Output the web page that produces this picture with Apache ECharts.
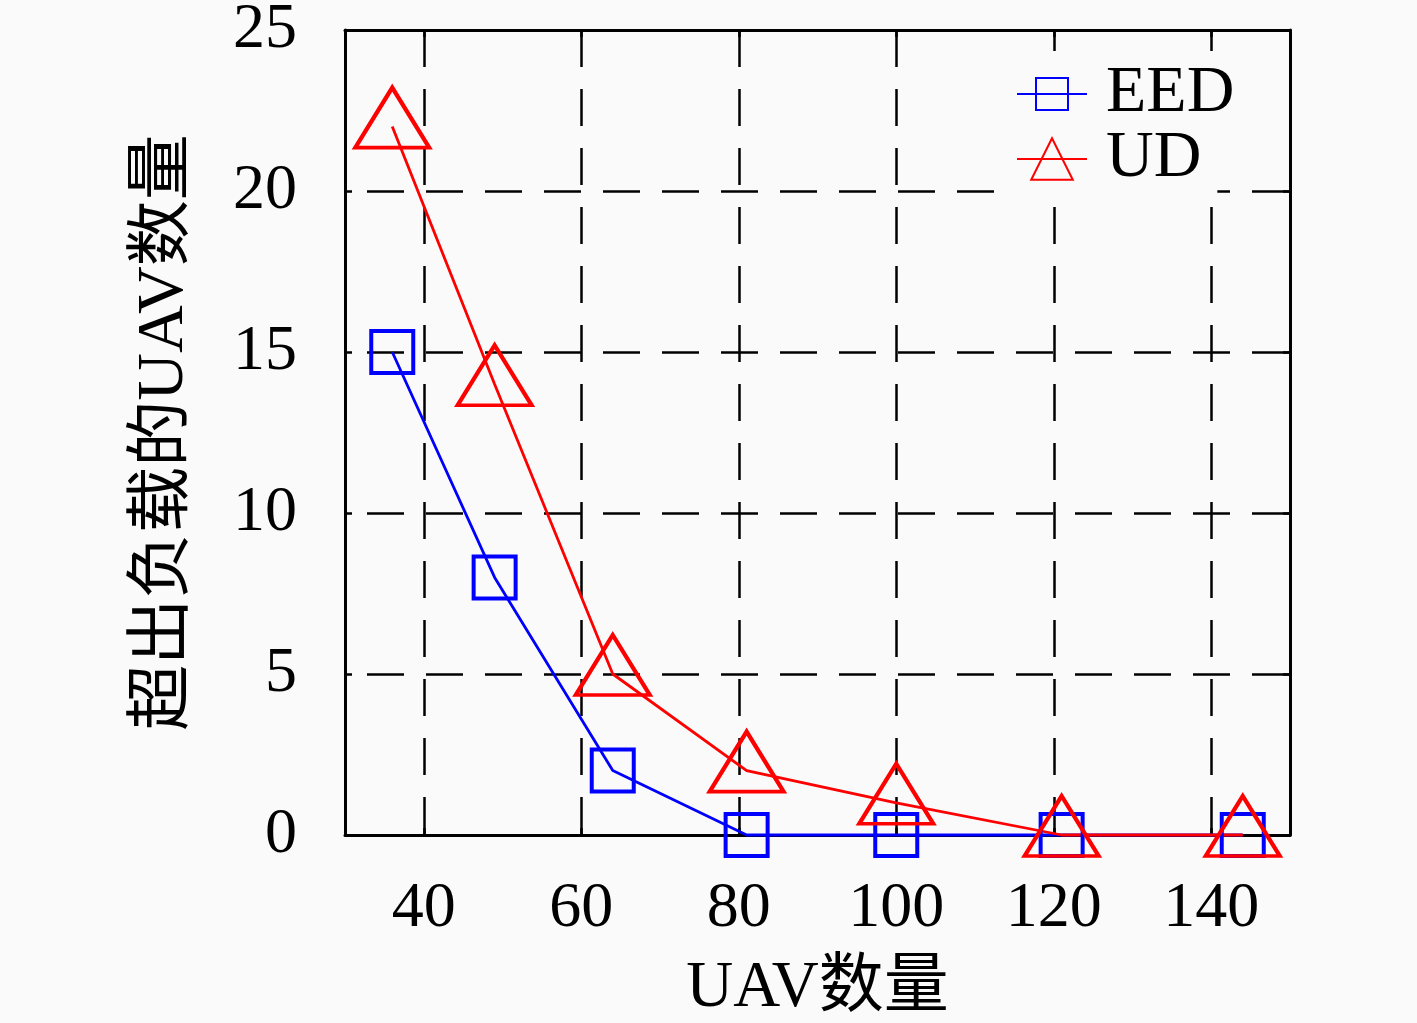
<!DOCTYPE html>
<html><head><meta charset="utf-8">
<script src="https://cdn.jsdelivr.net/npm/echarts@6/dist/echarts.min.js"></script>
<style>html,body{margin:0;padding:0;background:#fafafa}#c{width:1417px;height:1023px}</style>
</head><body><div id="c"></div>
<script>
const uavCounts = [36, 49, 64, 81, 100, 121, 144];
const eedValues = [15, 8, 2, 0, 0, 0, 0];
const udValues = [22, 14, 5, 2, 1, 0, 0];
const xTickValues = [40, 60, 80, 100, 120, 140];
const seriesNames = ['EED', 'UD'];
const xAxisName = 'UAV数量';
const yAxisName = '超出负载的UAV数量';

const BG = '#fafafa';
const FONT = "'Liberation Serif', 'Noto Sans CJK SC', serif";
const chart = echarts.init(document.getElementById('c'), null, {renderer: 'canvas'});

const frameLine = {show: true, onZero: false, lineStyle: {color: '#000', width: 3}};
const tickStyle = {color: '#000', width: 2.5};
const gridDash = {color: '#000', width: 2.5, type: [37, 22]};
const legendText = {fontFamily: FONT, fontSize: 66, color: '#000', padding: [0, 0, 0, 14]};

function pairs(xs, ys) { return xs.map((x, i) => [x, ys[i]]); }

chart.setOption({
  backgroundColor: BG,
  animation: false,
  grid: {left: 345, right: 127, top: 30, bottom: 188, containLabel: false, outerBoundsMode: 'none'},
  legend: [{
    orient: 'vertical',
    left: 1000, top: 51,
    padding: [10, 16, 10, 16],
    itemGap: 0,
    itemWidth: 70, itemHeight: 40,
    backgroundColor: BG,
    data: [seriesNames[0]],
    textStyle: legendText
  }, {
    orient: 'vertical',
    left: 1000, top: 126,
    padding: [0, 16, 6, 16],
    itemGap: 0,
    itemWidth: 70, itemHeight: 52,
    backgroundColor: BG,
    data: [seriesNames[1]],
    textStyle: legendText
  }],
  xAxis: [{
    type: 'value', min: 30, max: 150, position: 'bottom',
    name: xAxisName, nameLocation: 'middle', nameGap: 121,
    nameTextStyle: {fontFamily: FONT, fontSize: 65, color: '#000'},
    axisLine: frameLine,
    axisTick: {show: true, inside: true, length: 7, lineStyle: tickStyle, customValues: xTickValues},
    axisLabel: {show: true, customValues: xTickValues, margin: 42, fontFamily: FONT, fontSize: 64, color: '#000'},
    splitLine: {show: true, lineStyle: gridDash}
  }, {
    type: 'value', min: 30, max: 150, position: 'top',
    axisLine: frameLine,
    axisTick: {show: true, inside: true, length: 7, lineStyle: tickStyle, customValues: xTickValues},
    axisLabel: {show: false},
    splitLine: {show: false}
  }],
  yAxis: [{
    type: 'value', min: 0, max: 25, interval: 5, position: 'left',
    name: yAxisName, nameLocation: 'middle', nameGap: 147,
    nameTextStyle: {fontFamily: FONT, fontSize: 66, color: '#000'},
    axisLine: frameLine,
    axisTick: {show: true, inside: true, length: 7, lineStyle: tickStyle},
    axisLabel: {show: true, margin: 48, fontFamily: FONT, fontSize: 64, color: '#000'},
    splitLine: {show: true, lineStyle: Object.assign({}, gridDash, {dashOffset: 37})}
  }, {
    type: 'value', min: 0, max: 25, interval: 5, position: 'right',
    axisLine: frameLine,
    axisTick: {show: true, inside: true, length: 7, lineStyle: tickStyle},
    axisLabel: {show: false},
    splitLine: {show: false}
  }],
  series: [{
    name: seriesNames[0], type: 'line', xAxisIndex: 0, yAxisIndex: 0,
    data: pairs(uavCounts, eedValues),
    clip: false,
    symbol: 'rect', symbolSize: 42,
    lineStyle: {color: '#0000ff', width: 2.8},
    itemStyle: {color: 'none', borderColor: '#0000ff', borderWidth: 4},
    emphasis: {disabled: true}
  }, {
    name: seriesNames[1], type: 'line', xAxisIndex: 0, yAxisIndex: 0,
    data: pairs(uavCounts, udValues),
    clip: false,
    symbol: 'triangle', symbolSize: [74, 60], symbolOffset: [0, -9],
    lineStyle: {color: '#ff0000', width: 2.8},
    itemStyle: {color: 'none', borderColor: '#ff0000', borderWidth: 4},
    emphasis: {disabled: true}
  }]
});
</script></body></html>
